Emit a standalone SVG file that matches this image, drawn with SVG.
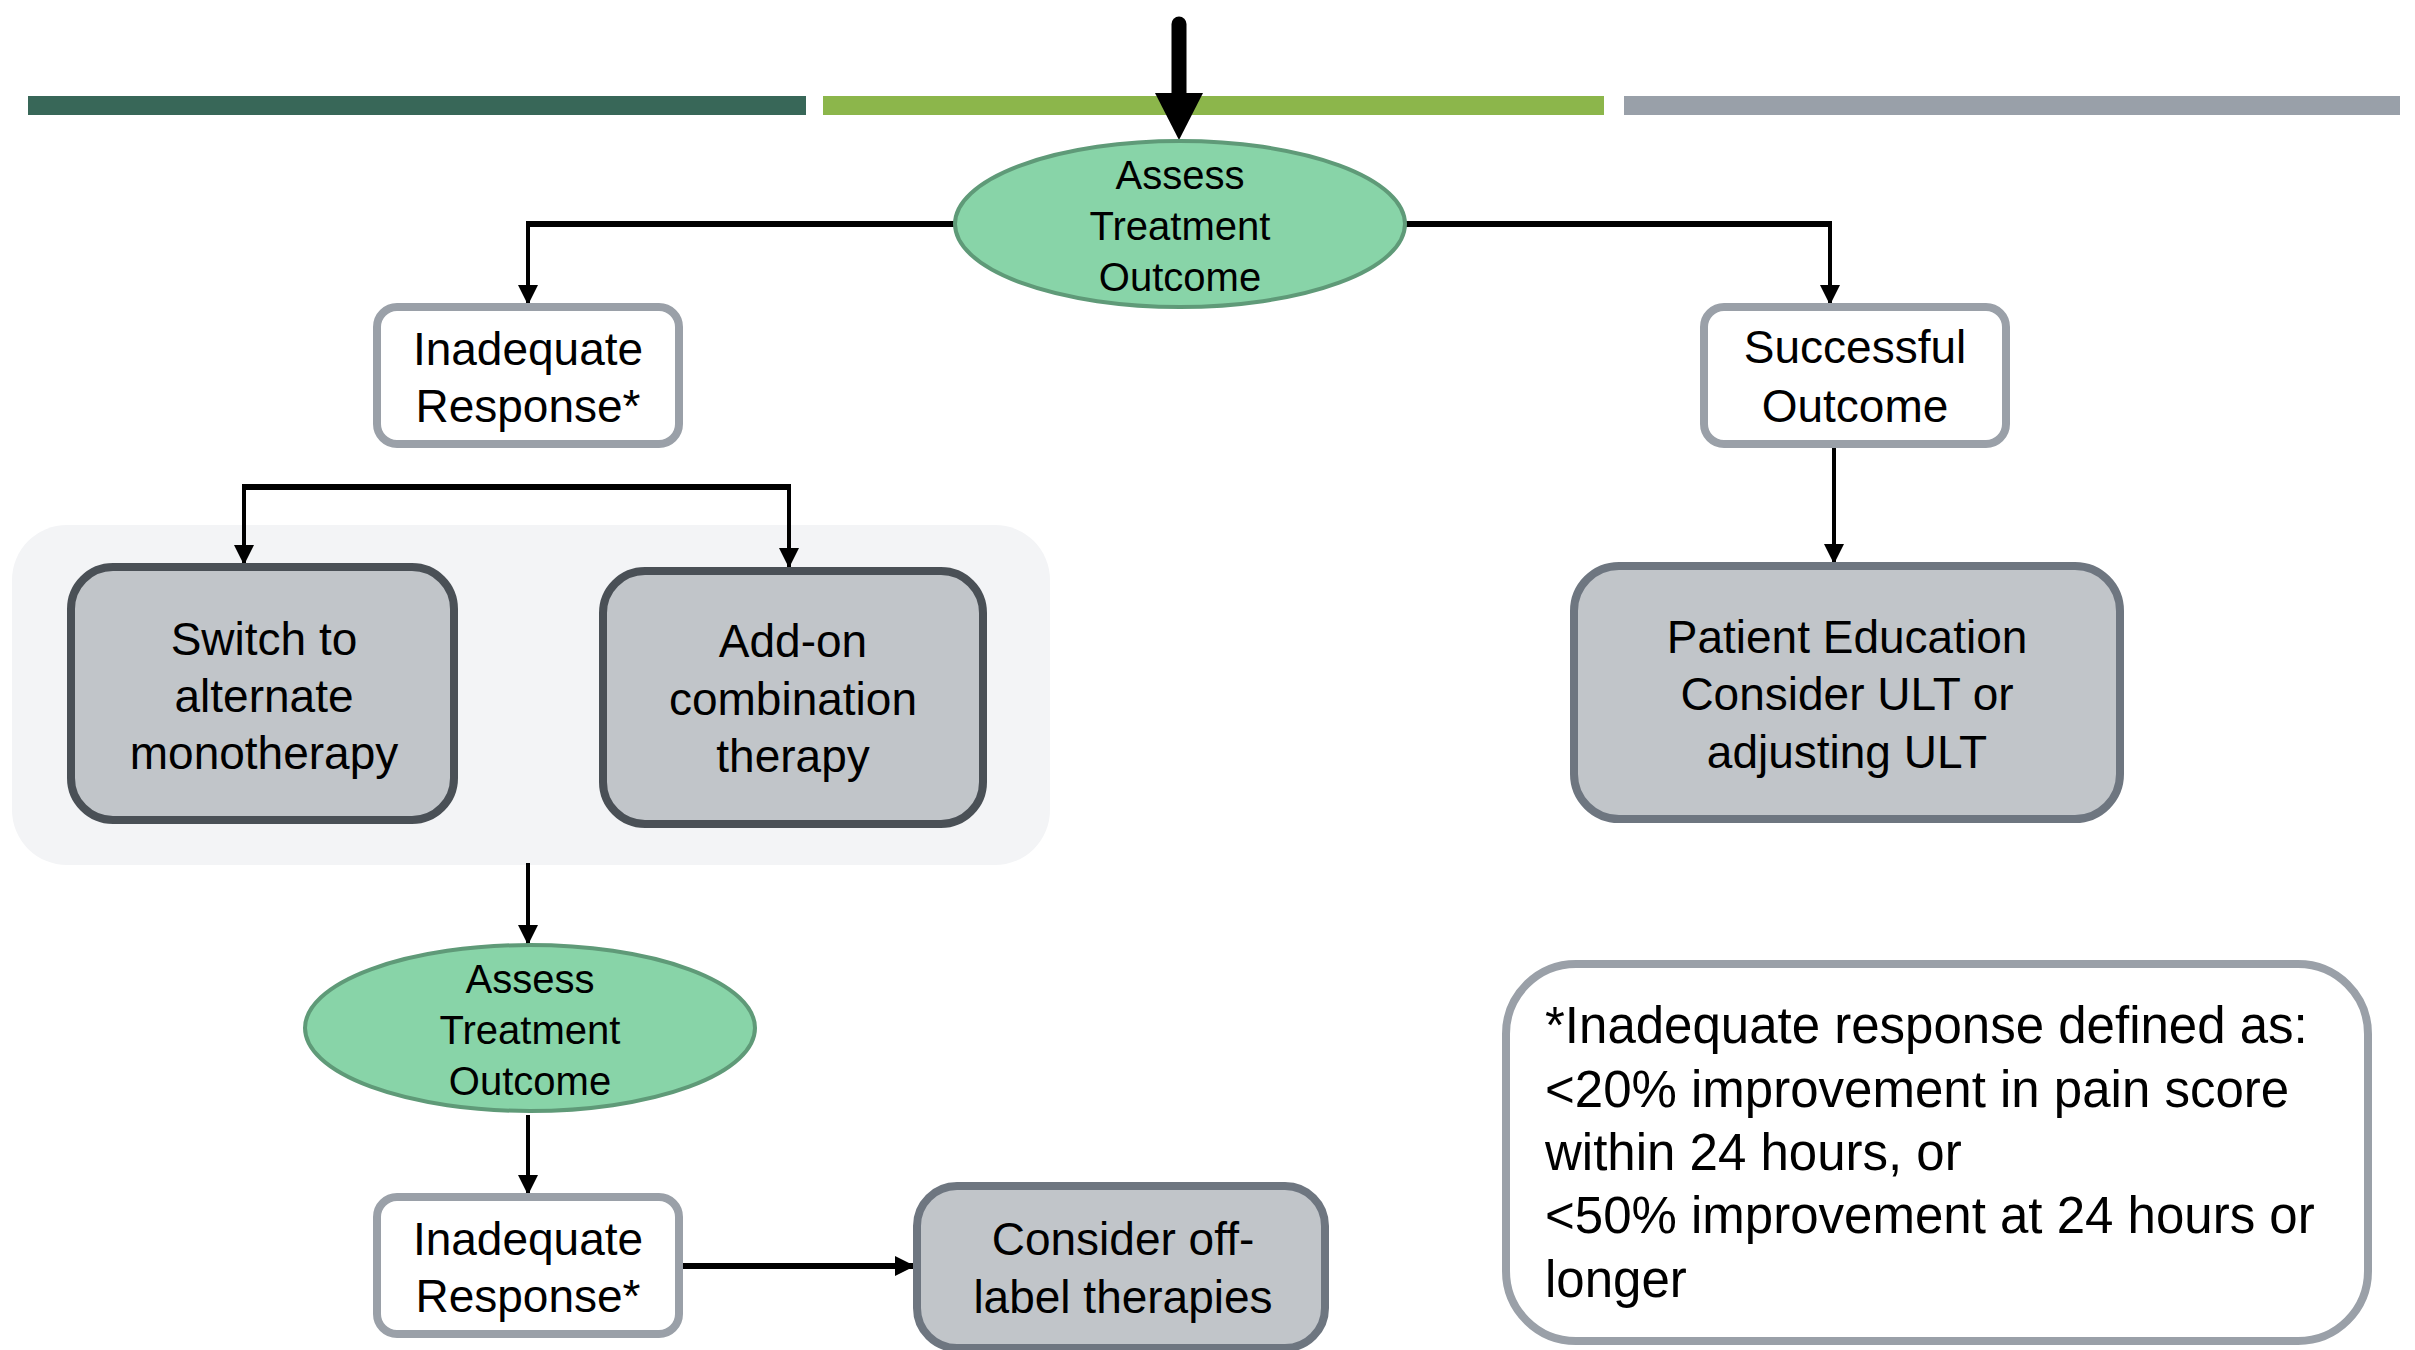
<svg xmlns="http://www.w3.org/2000/svg" width="2415" height="1350" viewBox="0 0 2415 1350">
<style>
text{font-family:"Liberation Sans",Arial,sans-serif;fill:#000}
.t40{font-size:40px;text-anchor:middle}
.t46{font-size:46px;text-anchor:middle}
.note{font-size:51px}
.ell{fill:#88d4a8;stroke:#5f9a78;stroke-width:4}
.wbox{fill:#fff;stroke:#9aa0a8;stroke-width:8}
.gbox{fill:#c1c5c9;stroke:#6e7680;stroke-width:8}
.dbox{fill:#c1c5c9;stroke:#4a5056;stroke-width:8}
.ln{fill:none;stroke:#000;stroke-width:4}
.lnh{fill:none;stroke:#000;stroke-width:6}
</style>
<defs>
<marker id="ah" markerUnits="userSpaceOnUse" markerWidth="22" markerHeight="22" viewBox="0 0 22 22" refX="20" refY="11" orient="auto">
<path d="M0,1 L20,11 L0,21 Z" fill="#000"/>
</marker>
</defs>
<g id="bars">
<rect x="28" y="96" width="778" height="19" fill="#386758"/>
<rect x="823" y="96" width="781" height="19" fill="#8cb64b"/>
<rect x="1624" y="96" width="776" height="19" fill="#99a0a9"/>
</g>
<g id="group-bg">
<rect x="12" y="525" width="1038" height="340" rx="55" fill="#f3f4f6"/>
</g>
<g id="connectors">
<line x1="1179" y1="24" x2="1179" y2="96" stroke="#000" stroke-width="15" stroke-linecap="round"/>
<path d="M1155,93 L1203,93 L1179,140 Z" fill="#000"/>
<path class="lnh" d="M955,224 H526"/>
<path class="ln" d="M528,222 V305" marker-end="url(#ah)"/>
<path class="lnh" d="M1405,224 H1832"/>
<path class="ln" d="M1830,222 V305" marker-end="url(#ah)"/>
<path class="ln" d="M1834,447 V564" marker-end="url(#ah)"/>
<path class="lnh" d="M242,487 H791"/>
<path class="ln" d="M244,484 V565" marker-end="url(#ah)"/>
<path class="ln" d="M789,487 V568" marker-end="url(#ah)"/>
<path class="ln" d="M528,863 V945" marker-end="url(#ah)"/>
<path class="ln" d="M528,1115 V1195" marker-end="url(#ah)"/>
<path class="lnh" d="M681,1266 H915" marker-end="url(#ah)"/>
</g>
<g id="assess1">
<ellipse class="ell" cx="1180" cy="224" rx="225" ry="83"/>
<text class="t40" x="1180" y="189">Assess</text>
<text class="t40" x="1180" y="240">Treatment</text>
<text class="t40" x="1180" y="291">Outcome</text>
</g>
<g id="inadequate1">
<rect class="wbox" x="377" y="307" width="302" height="137" rx="20"/>
<text class="t46" x="528" y="365">Inadequate</text>
<text class="t46" x="528" y="422">Response*</text>
</g>
<g id="successful">
<rect class="wbox" x="1704" y="307" width="302" height="137" rx="20"/>
<text class="t46" x="1855" y="363">Successful</text>
<text class="t46" x="1855" y="422">Outcome</text>
</g>
<g id="patient-education">
<rect class="gbox" x="1574" y="566" width="546" height="253" rx="45"/>
<text class="t46" x="1847" y="653">Patient Education</text>
<text class="t46" x="1847" y="710">Consider ULT or</text>
<text class="t46" x="1847" y="768">adjusting ULT</text>
</g>
<g id="switch">
<rect class="dbox" x="71" y="567" width="383" height="253" rx="42"/>
<text class="t46" x="264" y="655">Switch to</text>
<text class="t46" x="264" y="712">alternate</text>
<text class="t46" x="264" y="769">monotherapy</text>
</g>
<g id="addon">
<rect class="dbox" x="603" y="571" width="380" height="253" rx="42"/>
<text class="t46" x="793" y="657">Add-on</text>
<text class="t46" x="793" y="715">combination</text>
<text class="t46" x="793" y="772">therapy</text>
</g>
<g id="assess2">
<ellipse class="ell" cx="530" cy="1028" rx="225" ry="83"/>
<text class="t40" x="530" y="993">Assess</text>
<text class="t40" x="530" y="1044">Treatment</text>
<text class="t40" x="530" y="1095">Outcome</text>
</g>
<g id="inadequate2">
<rect class="wbox" x="377" y="1197" width="302" height="137" rx="20"/>
<text class="t46" x="528" y="1255">Inadequate</text>
<text class="t46" x="528" y="1312">Response*</text>
</g>
<g id="offlabel">
<rect class="gbox" x="917" y="1186" width="408" height="162" rx="40"/>
<text class="t46" x="1123" y="1255">Consider off-</text>
<text class="t46" x="1123" y="1313">label therapies</text>
</g>
<g id="note">
<rect class="wbox" x="1506" y="964" width="862" height="377" rx="70"/>
<text class="note" x="1545" y="1043">*Inadequate response defined as:</text>
<text class="note" x="1545" y="1107">&lt;20% improvement in pain score</text>
<text class="note" x="1545" y="1170">within 24 hours, or</text>
<text class="note" x="1545" y="1233">&lt;50% improvement at 24 hours or</text>
<text class="note" x="1545" y="1297">longer</text>
</g>
</svg>
